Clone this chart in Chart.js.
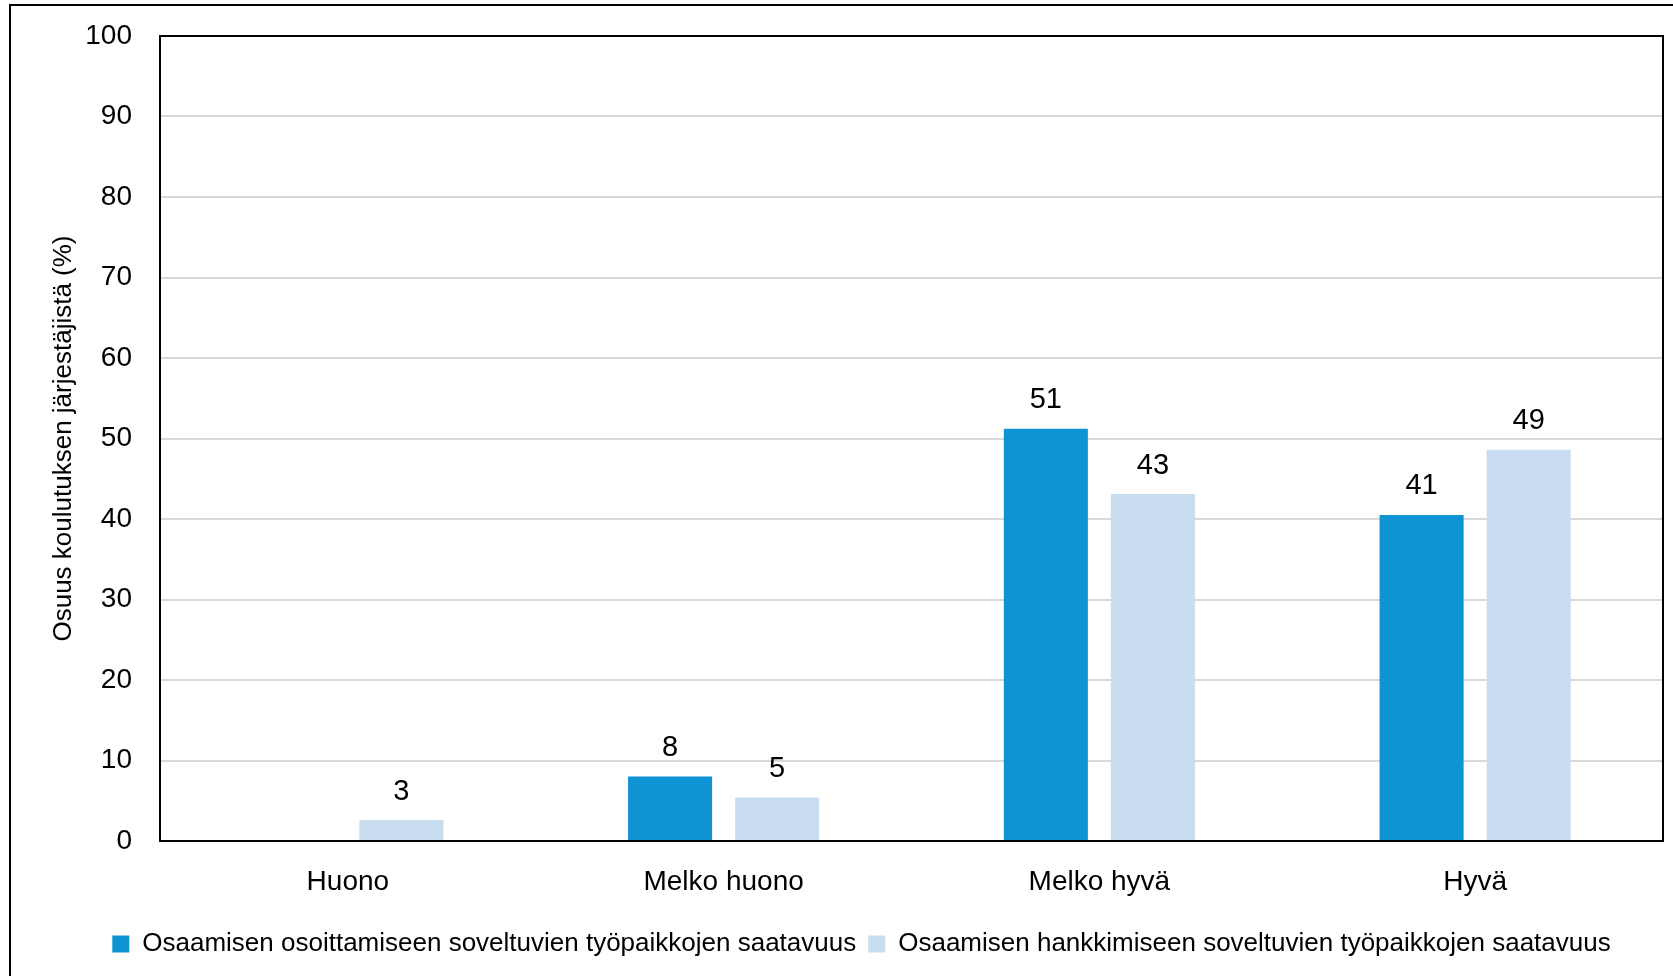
<!DOCTYPE html>
<html>
<head>
<meta charset="utf-8">
<script src="https://cdn.jsdelivr.net/npm/chart.js@4.4.1/dist/chart.umd.min.js"></script>
<style>
	html, body { margin: 0; padding: 0; background: #fff; overflow: hidden; }
	#frame {
		position: absolute; left: 9px; top: 4px; width: 1700px; height: 1000px;
		border-left: 2px solid #000; border-top: 2px solid #000;
	}
	#wrap { position: absolute; left: 0; top: 0; width: 1673px; height: 976px; }
</style>
</head>
<body>
<div id="frame"></div>
<div id="wrap"><canvas id="myChart"></canvas></div>
<script>
const categories = ['Huono', 'Melko huono', 'Melko hyvä', 'Hyvä']
const seriesNames = [
	'Osaamisen osoittamiseen soveltuvien työpaikkojen saatavuus',
	'Osaamisen hankkimiseen soveltuvien työpaikkojen saatavuus',
]
const osoittaminen = [0, 8.0, 51.2, 40.5]
const hankkiminen = [2.6, 5.4, 43.1, 48.6]
const yTicks = [0, 10, 20, 30, 40, 50, 60, 70, 80, 90, 100]

const FONT = "'Liberation Sans', Arial, sans-serif"

// plot frame (all four sides) and value labels above bars
const framePlugin = {
	id: 'framePlugin',
	afterDraw(chart) {
		const a = chart.chartArea
		const c = chart.ctx
		c.save()
		c.strokeStyle = '#000'
		c.lineWidth = 2
		c.strokeRect(a.left, a.top, a.right - a.left, a.bottom - a.top)
		c.restore()
	},
	afterDatasetsDraw(chart) {
		const c = chart.ctx
		c.save()
		c.font = '29px ' + FONT
		c.fillStyle = '#000'
		c.textAlign = 'center'
		c.textBaseline = 'bottom'
		chart.data.datasets.forEach((ds, i) => {
			chart.getDatasetMeta(i).data.forEach((bar, j) => {
				const v = ds.data[j]
				if (!v) return
				c.fillText(Math.round(v), bar.x, bar.y - 14)
			})
		})
		c.restore()
	},
}

const ctx = document.getElementById('myChart')

new Chart(ctx, {
	type: 'bar',
	data: {
		labels: categories,
		datasets: [
			{
				label: seriesNames[0],
				data: osoittaminen,
				backgroundColor: '#1093D2',
				categoryPercentage: 0.57,
				barPercentage: 0.785,
			},
			{
				label: seriesNames[1],
				data: hankkiminen,
				backgroundColor: '#C9DDF1',
				categoryPercentage: 0.57,
				barPercentage: 0.785,
			},
		],
	},
	options: {
		responsive: true,
		maintainAspectRatio: false,
		animation: false,
		layout: {
			padding: { top: 36, right: 10, bottom: 9, left: 60 },
		},
		scales: {
			y: {
				min: 0,
				max: 100,
				afterBuildTicks(scale) {
					scale.ticks = yTicks.map((v) => ({ value: v }))
				},
				afterFit(scale) {
					scale.width = 100
					scale.paddingTop = 0
					scale.paddingBottom = 0
				},
				grid: { color: '#D9D9D9', lineWidth: 2, drawTicks: false },
				border: { display: false },
				ticks: {
					padding: 28,
					color: '#000',
					font: { family: FONT, size: 28 },
				},
				title: {
					display: true,
					text: 'Osuus koulutuksen järjestäjistä (%)',
					color: '#000',
					font: { family: FONT, size: 26 },
					padding: { top: -12, bottom: 0 },
				},
			},
			x: {
				afterFit(scale) {
					scale.height = 78
					scale.paddingLeft = 0
					scale.paddingRight = 0
				},
				grid: { display: false, drawTicks: false },
				border: { display: false },
				ticks: {
					padding: 24,
					color: '#000',
					font: { family: FONT, size: 28 },
				},
			},
		},
		plugins: {
			legend: {
				position: 'bottom',
				labels: {
					boxWidth: 17,
					boxHeight: 17,
					padding: 12,
					color: '#000',
					font: { family: FONT, size: 26 },
				},
			},
			tooltip: { enabled: false },
		},
	},
	plugins: [framePlugin],
})
</script>
</body>
</html>
